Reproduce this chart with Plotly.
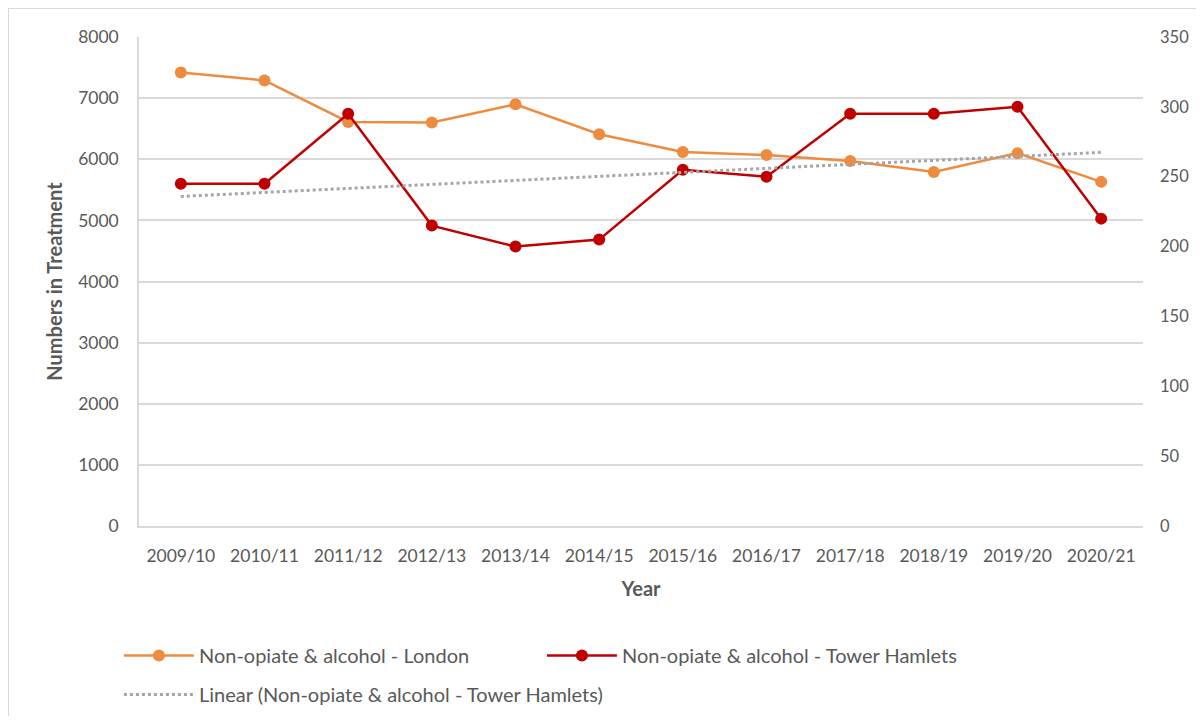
import numpy as np
import plotly.graph_objects as go

years = ["2009/10", "2010/11", "2011/12", "2012/13", "2013/14", "2014/15",
         "2015/16", "2016/17", "2017/18", "2018/19", "2019/20", "2020/21"]
london = [7420, 7290, 6610, 6600, 6900, 6410, 6120, 6070, 5970, 5790, 6100, 5630]
tower_hamlets = [245, 245, 295, 215, 200, 205, 255, 250, 295, 295, 300, 220]
left_ticks = [0, 1000, 2000, 3000, 4000, 5000, 6000, 7000, 8000]
right_ticks = [0, 50, 100, 150, 200, 250, 300, 350]

# Linear trend (least squares), as Excel's trendline
xi = np.arange(len(years))
slope, intercept = np.polyfit(xi, tower_hamlets, 1)
trend = slope * xi + intercept

ORANGE = "#ED8B3F"
RED = "#C00000"
GRAY = "#A5A5A5"
TEXT = "#595959"
GRID = "#D9D9D9"
FONT = "Lato"

W, H = 1188, 708
ML, MT, MR, MB = 131, 29, 53, 190
PW = W - ML - MR
PH = H - MT - MB

fig = go.Figure()
fig.add_trace(go.Scatter(
    x=years, y=london, name="Non-opiate & alcohol - London",
    mode="lines+markers", line=dict(color=ORANGE, width=2.5),
    marker=dict(size=12, color=ORANGE), yaxis="y", legend="legend"))
fig.add_trace(go.Scatter(
    x=years, y=tower_hamlets, name="Non-opiate & alcohol - Tower Hamlets",
    mode="lines+markers", line=dict(color=RED, width=2.5),
    marker=dict(size=12, color=RED), yaxis="y2", legend="legend"))
fig.add_trace(go.Scatter(
    x=years, y=trend, name="Linear (Non-opiate & alcohol - Tower Hamlets)",
    mode="lines", line=dict(color=GRAY, width=3, dash="dot"), yaxis="y2",
    legend="legend2"))

legend_common = dict(orientation="h", xanchor="left", yanchor="top",
                     font=dict(size=20, color=TEXT), itemwidth=70,
                     bgcolor="rgba(0,0,0,0)")

fig.update_layout(
    width=W, height=H,
    margin=dict(l=ML, r=MR, t=MT, b=MB, autoexpand=False),
    paper_bgcolor="white", plot_bgcolor="white",
    font=dict(family=FONT, color=TEXT, size=17.5),
    showlegend=True,
    xaxis=dict(
        type="category", range=[-0.5, 11.5], automargin=False,
        showgrid=False, showline=True, linecolor=GRID, linewidth=1.5,
        ticks="", tickfont=dict(size=17.5, color=TEXT), ticklabelstandoff=13,
        title=dict(text="<b>Year</b>", font=dict(size=20, color=TEXT), standoff=17),
    ),
    yaxis=dict(
        range=[0, 8000], tickvals=left_ticks, ticktext=[str(v) for v in left_ticks],
        automargin=False,
        showgrid=True, gridcolor=GRID, gridwidth=1.5,
        showline=True, linecolor=GRID, linewidth=1.5,
        zeroline=False, ticks="", ticklabelstandoff=15,
        tickfont=dict(size=17.5, color=TEXT),
        title=dict(text="<b>Numbers in Treatment</b>", font=dict(size=20, color=TEXT), standoff=10),
    ),
    yaxis2=dict(
        overlaying="y", side="right", range=[0, 350], automargin=False,
        tickvals=right_ticks, ticktext=[str(v) for v in right_ticks],
        showgrid=False, zeroline=False, showline=False, ticks="",
        ticklabelstandoff=16,
        tickfont=dict(size=16.5, color=TEXT),
    ),
    legend=dict(x=-0.02, y=-0.225, entrywidth=338, entrywidthmode="pixels",
                **legend_common),
    legend2=dict(x=-0.02, y=-0.3047, **legend_common),
    shapes=[dict(type="rect", xref="paper", yref="paper",
                 x0=-ML / PW, x1=1.3, y0=1 + MT / PH, y1=-0.6,
                 line=dict(color=GRID, width=2), layer="below")],
)

fig.write_html("out.html")
